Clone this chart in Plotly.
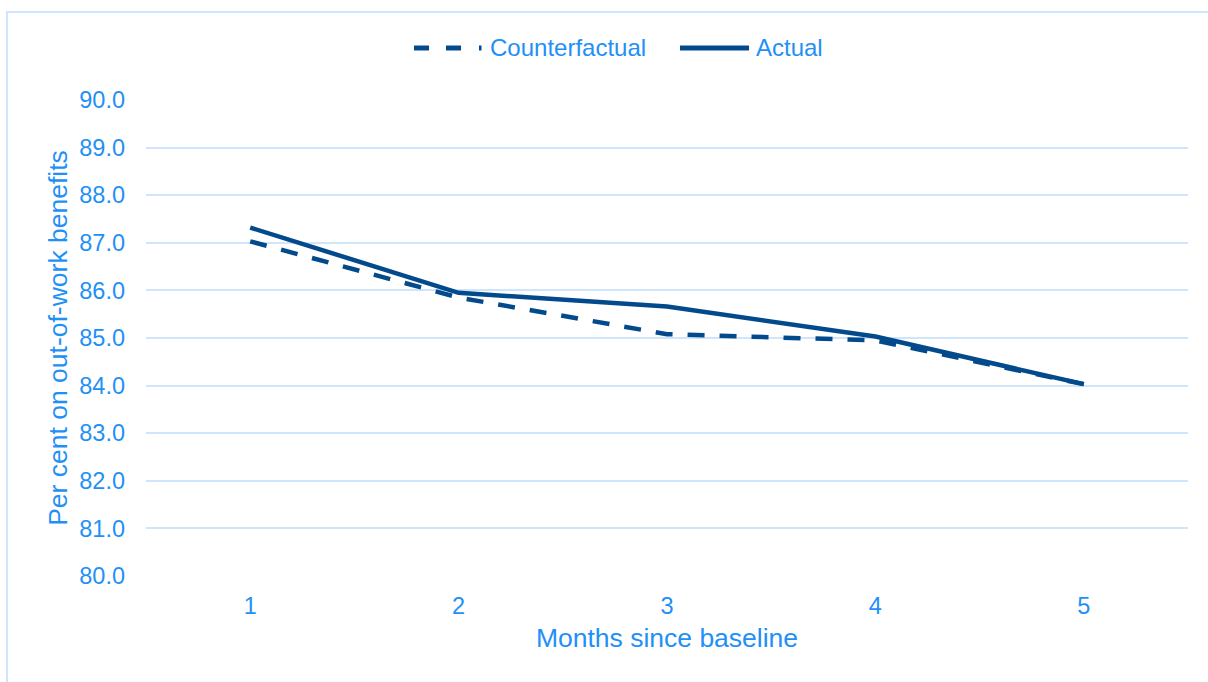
import plotly.graph_objects as go

# Months since the baseline and the share of people on out-of-work benefits
months = [1, 2, 3, 4, 5]
counterfactual = [87.03, 85.85, 85.08, 84.95, 84.03]
actual = [87.32, 85.95, 85.66, 85.03, 84.03]
y_ticks = [80, 81, 82, 83, 84, 85, 86, 87, 88, 89, 90]

LINE = "#024a8c"
TEXT = "#1f90f5"
GRID = "#cfe5fb"
FONT = "Liberation Sans, Arial, sans-serif"

# Plot area in pixels
L, R, T, B = 146, 20, 100, 106
W, H = 1208, 682
pw, ph = W - L - R, H - T - B


def px(x):
    return (x - L) / pw


def py(y):
    return (H - B - y) / ph


fig = go.Figure()
fig.add_trace(go.Scatter(
    x=months, y=counterfactual, mode="lines", name="Counterfactual",
    line=dict(color=LINE, width=4.5, dash="17px,15px"),
))
fig.add_trace(go.Scatter(
    x=months, y=actual, mode="lines", name="Actual",
    line=dict(color=LINE, width=4.5),
))

shapes = [
    # outer frame
    dict(type="rect", xref="paper", yref="paper",
         x0=px(7), x1=px(1215), y0=py(12), y1=py(700),
         line=dict(color=GRID, width=2), fillcolor="rgba(0,0,0,0)", layer="below"),
    # legend keys
    dict(type="line", xref="paper", yref="paper", x0=px(414), x1=px(429), y0=py(48), y1=py(48),
         line=dict(color=LINE, width=5)),
    dict(type="line", xref="paper", yref="paper", x0=px(446), x1=px(461), y0=py(48), y1=py(48),
         line=dict(color=LINE, width=5)),
    dict(type="line", xref="paper", yref="paper", x0=px(479), x1=px(481.5), y0=py(48), y1=py(48),
         line=dict(color=LINE, width=5)),
    dict(type="line", xref="paper", yref="paper", x0=px(680), x1=px(749), y0=py(48), y1=py(48),
         line=dict(color=LINE, width=5)),
]

annotations = [
    dict(text="Counterfactual", xref="paper", yref="paper", x=px(488), y=py(48),
         xanchor="left", yanchor="middle", showarrow=False,
         font=dict(family=FONT, size=24, color=TEXT)),
    dict(text="Actual", xref="paper", yref="paper", x=px(754), y=py(48),
         xanchor="left", yanchor="middle", showarrow=False,
         font=dict(family=FONT, size=24, color=TEXT)),
]

fig.update_layout(
    width=W, height=H,
    margin=dict(l=L, r=R, t=T, b=B),
    paper_bgcolor="white", plot_bgcolor="white",
    showlegend=False,
    font=dict(family=FONT, size=24, color=TEXT),
    shapes=shapes,
    annotations=annotations,
    xaxis=dict(
        range=[0.5, 5.5], tickvals=months, ticktext=[str(m) for m in months],
        showgrid=False, zeroline=False, showline=False, ticks="",
        ticklabelstandoff=13,
        title=dict(text="Months since baseline", standoff=10,
                   font=dict(family=FONT, size=26.5, color=TEXT)),
        tickfont=dict(family=FONT, size=23.5, color=TEXT),
    ),
    yaxis=dict(
        range=[80, 90], tickvals=y_ticks, ticktext=[f"{v:.1f}" for v in y_ticks],
        showgrid=True, gridcolor=GRID, gridwidth=2, zeroline=False, showline=False,
        ticks="", ticklabelstandoff=20,
        title=dict(text="Per cent on out-of-work benefits", standoff=3,
                   font=dict(family=FONT, size=26.5, color=TEXT)),
        tickfont=dict(family=FONT, size=23.5, color=TEXT),
    ),
)

fig.write_html("out.html")
